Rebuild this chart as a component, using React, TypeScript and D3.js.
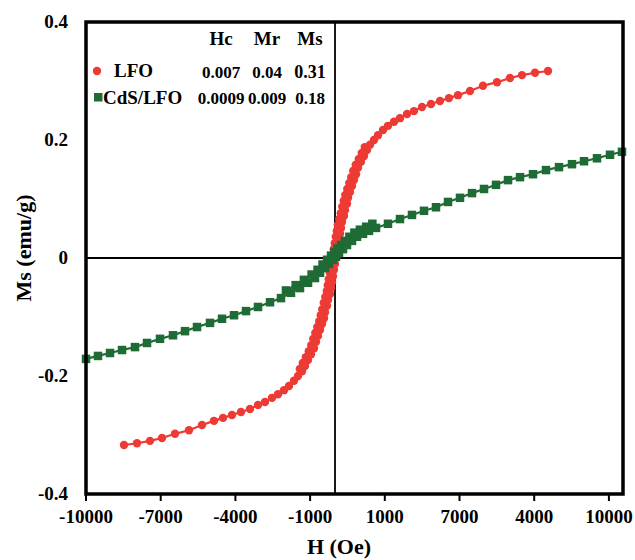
import React from "react";
import * as d3 from "d3";

// LFO (red circles) – H in Oe, M in emu/g (ascending branch)
const lfoH = [
  -8474, -7952, -7430, -6948, -6426, -5864, -5342, -4860, -4498, -4137, -3775, -3414, -3093,
  -2812, -2530, -2289, -2048, -1848, -1647, -1486, -1326, -1205, -1085, -964, -844, -763, -683,
  -603, -522, -442, -402, -322, -281, -201, -161, -121, -81, -40, 0,
  40, 80, 120, 161, 201, 241, 281, 361, 402, 482, 522, 602, 683, 763, 843, 924, 1044, 1165,
  1285, 1406, 1566, 1727, 1928, 2128, 2369, 2610, 2892, 3173, 3494, 3855, 4217, 4578, 4940,
  5422, 5944, 6506, 7028, 7510, 8032, 8554,
];
const lfoM = [
  -0.317, -0.314, -0.31, -0.305, -0.298, -0.292, -0.283, -0.276, -0.271, -0.266, -0.261, -0.256,
  -0.249, -0.244, -0.237, -0.231, -0.224, -0.217, -0.208, -0.2, -0.192, -0.183, -0.173, -0.163,
  -0.153, -0.142, -0.132, -0.122, -0.112, -0.102, -0.092, -0.081, -0.071, -0.061, -0.051, -0.041,
  -0.031, -0.02, -0.01,
  0, 0.01, 0.02, 0.031, 0.041, 0.051, 0.061, 0.071, 0.081, 0.092, 0.102, 0.112, 0.122, 0.132,
  0.142, 0.153, 0.163, 0.173, 0.183, 0.192, 0.2, 0.208, 0.217, 0.224, 0.231, 0.237, 0.244, 0.249,
  0.256, 0.261, 0.266, 0.271, 0.276, 0.283, 0.292, 0.298, 0.305, 0.31, 0.314, 0.317,
];
// LFO return branch (central part of the loop)
const lfoRetH = [
  1195, 1075, 955, 834, 734, 653, 573, 493, 412, 352, 292, 232, 171, 111, 71, 31, -10, -50, -90,
  -130, -170, -210, -251, -291, -331, -391, -451, -512, -572, -632, -712, -793, -873, -953,
  -1054, -1175, -1295, -1415,
];
const lfoRetM = [
  0.188, 0.178, 0.168, 0.158, 0.148, 0.137, 0.127, 0.117, 0.107, 0.097, 0.087, 0.076, 0.066,
  0.056, 0.046, 0.036, 0.025, 0.015, 0.005, -0.005, -0.015, -0.025, -0.036, -0.046, -0.056,
  -0.066, -0.076, -0.087, -0.097, -0.107, -0.117, -0.127, -0.137, -0.148, -0.158, -0.168,
  -0.178, -0.188,
];

// CdS/LFO (green squares)
const cdsH = [
  -10000, -9518, -9036, -8554, -8032, -7550, -7028, -6506, -6024, -5542, -5020, -4538, -4056,
  -3574, -3092, -2610, -2169, -1767, -1406, -1084, -803, -602, -402, -241, -80,
  40, 161, 321, 482, 683, 884, 1124, 1365, 1647, 2128, 2610, 3092, 3574, 4056, 4538, 5020, 5502,
  5984, 6466, 6948, 7430, 7952, 8474, 8996, 9518, 10000, 10522, 11044, 11526,
];
const cdsM = [
  -0.171, -0.166, -0.161, -0.156, -0.151, -0.144, -0.137, -0.131, -0.124, -0.117, -0.11, -0.103,
  -0.097, -0.09, -0.083, -0.075, -0.068, -0.059, -0.051, -0.042, -0.034, -0.025, -0.017, -0.01,
  -0.003,
  0.002, 0.008, 0.015, 0.022, 0.029, 0.036, 0.041, 0.046, 0.051, 0.058, 0.066, 0.073, 0.08, 0.086,
  0.095, 0.102, 0.11, 0.117, 0.124, 0.132, 0.137, 0.142, 0.149, 0.154, 0.159, 0.164, 0.169, 0.175,
  0.18,
];
// CdS/LFO return branch (central part)
const cdsRetH = [
  1500, 1250, 1000, 780, 580, 400, 240, 100, -20, -160, -320, -500, -700, -940, -1250, -1580,
  -1970,
];
const cdsRetM = [
  0.058, 0.053, 0.048, 0.043, 0.036, 0.029, 0.022, 0.016, 0.01, 0.004, -0.003, -0.011, -0.02,
  -0.028, -0.037, -0.046, -0.055,
];

// Axis ticks (the original x labels are printed as-is)
const xTickValues = [-10000, -7000, -4000, -1000, 2000, 5000, 8000, 11000];
const xTickLabels = ["-10000", "-7000", "-4000", "-1000", "1000", "7000", "4000", "10000"];
const yTickValues = [0.4, 0.2, 0, -0.2, -0.4];
const yTickLabels = ["0.4", "0.2", "0", "-0.2", "-0.4"];

// Legend / table
const seriesNames = ["LFO", "CdS/LFO"];
const tableHeaders = ["Hc", "Mr", "Ms"];
const hcValues = ["0.007", "0.0009"];
const mrValues = ["0.04", "0.009"];
const msValues = ["0.31", "0.18"];

const RED = "#ee3a35";
const GREEN = "#1f6b35";
const FONT = "'Liberation Serif', 'Times New Roman', serif";

type P = [number, number];

export default function App() {
  const W = 635;
  const H = 560;
  const left = 86;
  const right = 623;
  const top = 22;
  const bottom = 494;

  const x = d3.scaleLinear().domain([-10000, 11566]).range([left, right]);
  const y = d3.scaleLinear().domain([-0.4, 0.4]).range([bottom, top]);

  const zip = (a: number[], b: number[]) => a.map((h, i) => [h, b[i]] as P);
  const lfo = zip(lfoH, lfoM);
  const lfoRet = zip(lfoRetH, lfoRetM);
  const cds = zip(cdsH, cdsM);
  const cdsRet = zip(cdsRetH, cdsRetM);
  const line = d3
    .line<P>()
    .x((d) => x(d[0]))
    .y((d) => y(d[1]));

  const sq = 8.5;
  const rr = 4.2;
  const colX = [221, 267, 310];

  const squares = (pts: P[], k: string) =>
    pts.map((d, i) => (
      <rect
        key={k + i}
        x={x(d[0]) - sq / 2}
        y={y(d[1]) - sq / 2}
        width={sq}
        height={sq}
        fill={GREEN}
      />
    ));
  const dots = (pts: P[], k: string) =>
    pts.map((d, i) => <circle key={k + i} cx={x(d[0])} cy={y(d[1])} r={rr} fill={RED} />);

  return (
    <svg
      width={W}
      height={H}
      style={{ position: "absolute", left: 0, top: 0, background: "#fff" }}
      fontFamily={FONT}
      fontWeight="bold"
    >
      <rect x={0} y={0} width={W} height={H} fill="#fff" />
      {/* zero lines */}
      <line x1={left} x2={right} y1={y(0)} y2={y(0)} stroke="#000" strokeWidth={1.8} />
      <line x1={x(0)} x2={x(0)} y1={top} y2={bottom} stroke="#000" strokeWidth={1.8} />

      {/* LFO */}
      <path d={line(lfo) || ""} fill="none" stroke={RED} strokeWidth={2.2} />
      <path d={line(lfoRet) || ""} fill="none" stroke={RED} strokeWidth={2.2} />
      {dots(lfo, "r")}
      {dots(lfoRet, "rr")}

      {/* CdS/LFO */}
      <path d={line(cds) || ""} fill="none" stroke={GREEN} strokeWidth={2.2} />
      <path d={line(cdsRet) || ""} fill="none" stroke={GREEN} strokeWidth={2.2} />
      {squares(cds, "g")}
      {squares(cdsRet, "gr")}

      {/* frame */}
      <rect
        x={left}
        y={top}
        width={right - left}
        height={bottom - top}
        fill="none"
        stroke="#000"
        strokeWidth={3.5}
      />

      {/* x ticks */}
      {xTickValues.map((v, i) => (
        <g key={"xt" + i}>
          <line x1={x(v)} x2={x(v)} y1={bottom} y2={bottom + 7} stroke="#000" strokeWidth={2} />
          <text x={x(v)} y={523} textAnchor="middle" fontSize={19}>
            {xTickLabels[i]}
          </text>
        </g>
      ))}
      {/* y ticks */}
      {yTickValues.map((v, i) => (
        <text key={"yt" + i} x={68} y={y(v) + 6} textAnchor="end" fontSize={19}>
          {yTickLabels[i]}
        </text>
      ))}

      {/* axis titles */}
      <text x={339} y={554} textAnchor="middle" fontSize={22}>
        H (Oe)
      </text>
      <text
        transform={`translate(31,${y(0) - 10}) rotate(-90)`}
        textAnchor="middle"
        fontSize={22}
      >
        Ms (emu/g)
      </text>

      {/* legend / table */}
      {tableHeaders.map((t, i) => (
        <text key={"h" + i} x={colX[i]} y={45} textAnchor="middle" fontSize={19}>
          {t}
        </text>
      ))}
      <circle cx={97} cy={71} r={rr} fill={RED} />
      <text x={114} y={77} fontSize={19}>
        {seriesNames[0]}
      </text>
      <rect x={94} y={93} width={sq} height={sq} fill={GREEN} />
      <text x={103} y={104} fontSize={19}>
        {seriesNames[1]}
      </text>
      {[0, 1].map((r) => (
        <g key={"row" + r} fontSize={17}>
          <text x={colX[0]} y={78 + r * 26} textAnchor="middle">
            {hcValues[r]}
          </text>
          <text x={colX[1]} y={78 + r * 26} textAnchor="middle">
            {mrValues[r]}
          </text>
          <text x={colX[2]} y={78 + r * 26} textAnchor="middle" fontSize={r === 0 ? 18 : 17}>
            {msValues[r]}
          </text>
        </g>
      ))}
    </svg>
  );
}
